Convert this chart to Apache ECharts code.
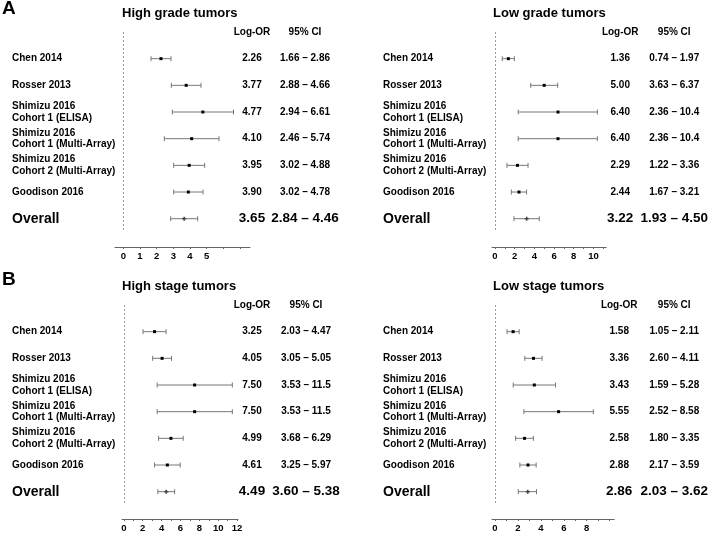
<!DOCTYPE html>
<html>
<head>
<meta charset="utf-8">
<script src="https://cdn.jsdelivr.net/npm/echarts@6/dist/echarts.min.js"></script>
<style>html,body{margin:0;padding:0;background:#fff}#c{width:711px;height:533px}</style>
</head>
<body>
<div id="c"></div>
<script>
// ---- data ----
var studies = ['Chen 2014', 'Rosser 2013', 'Shimizu 2016\nCohort 1 (ELISA)', 'Shimizu 2016\nCohort 1 (Multi-Array)', 'Shimizu 2016\nCohort 2 (Multi-Array)', 'Goodison 2016', 'Overall'];
var panelTitles = ['High grade tumors', 'Low grade tumors', 'High stage tumors', 'Low stage tumors'];
var headerLogOR = 'Log-OR';
var headerCI = '95% CI';

var highGradeOR = [2.26, 3.77, 4.77, 4.10, 3.95, 3.90, 3.65];
var highGradeLo = [1.66, 2.88, 2.94, 2.46, 3.02, 3.02, 2.84];
var highGradeHi = [2.86, 4.66, 6.61, 5.74, 4.88, 4.78, 4.46];

var lowGradeOR = [1.36, 5.00, 6.40, 6.40, 2.29, 2.44, 3.22];
var lowGradeLo = [0.74, 3.63, 2.36, 2.36, 1.22, 1.67, 1.93];
var lowGradeHi = [1.97, 6.37, 10.4, 10.4, 3.36, 3.21, 4.50];

var highStageOR = [3.25, 4.05, 7.50, 7.50, 4.99, 4.61, 4.49];
var highStageLo = [2.03, 3.05, 3.53, 3.53, 3.68, 3.25, 3.60];
var highStageHi = [4.47, 5.05, 11.5, 11.5, 6.29, 5.97, 5.38];

var lowStageOR = [1.58, 3.36, 3.43, 5.55, 2.58, 2.88, 2.86];
var lowStageLo = [1.05, 2.60, 1.59, 2.52, 1.80, 2.17, 2.03];
var lowStageHi = [2.11, 4.11, 5.28, 8.58, 3.35, 3.59, 3.62];

var highGradeTicks = [0, 1, 2, 3, 4, 5, 6, 7];
var highGradeTickLabels = [0, 1, 2, 3, 4, 5];
var lowGradeTicks = [0, 1, 2, 3, 4, 5, 6, 7, 8, 9, 10, 11];
var lowGradeTickLabels = [0, 2, 4, 6, 8, 10];
var highStageTicks = [0, 1, 2, 3, 4, 5, 6, 7, 8, 9, 10, 11, 12];
var highStageTickLabels = [0, 2, 4, 6, 8, 10, 12];
var lowStageTicks = [0, 1, 2, 3, 4, 5, 6, 7, 8, 9, 10];
var lowStageTickLabels = [0, 2, 4, 6, 8];

// ---- layout ----
var FONT = '"Liberation Sans", Arial, Helvetica, sans-serif';
function fmt(v) { return v >= 10 ? v.toFixed(1) : v.toFixed(2); }

var panels = [
  { title: panelTitles[0], or: highGradeOR, lo: highGradeLo, hi: highGradeHi, ticks: highGradeTicks, tickLabels: highGradeTickLabels,
    left: 115, width: 135, top: 32, min: -0.5, max: 7.6, titleLeft: 122, titleTop: 7, labelX: 12, orX: 252, ciX: 305, axisOffset: 15 },
  { title: panelTitles[1], or: lowGradeOR, lo: lowGradeLo, hi: lowGradeHi, ticks: lowGradeTicks, tickLabels: lowGradeTickLabels,
    left: 492, width: 116, top: 32, min: -0.3, max: 11.3, titleLeft: 493, titleTop: 7, labelX: 383, orX: 622, ciX: 676, axisOffset: 15 },
  { title: panelTitles[2], or: highStageOR, lo: highStageLo, hi: highStageHi, ticks: highStageTicks, tickLabels: highStageTickLabels,
    left: 122, width: 116, top: 305, min: -0.2, max: 12.1, titleLeft: 122, titleTop: 280, labelX: 12, orX: 252, ciX: 306, axisOffset: 14 },
  { title: panelTitles[3], or: lowStageOR, lo: lowStageLo, hi: lowStageHi, ticks: lowStageTicks, tickLabels: lowStageTickLabels,
    left: 492, width: 125, top: 305, min: -0.26, max: 10.4, titleLeft: 493, titleTop: 280, labelX: 383, orX: 622, ciX: 677, axisOffset: 14 }
];

var rowCount = studies.length; // rows 1..7, header row 0
var rowMax = rowCount + 0.5;
var rowValues = [];
for (var r = 0; r <= rowCount; r++) rowValues.push(r);

var option = {
  animation: false,
  backgroundColor: '#ffffff',
  title: [
    { text: 'A', left: 2, top: -1, padding: 0, textStyle: { fontFamily: FONT, fontSize: 19, fontWeight: 'bold', color: '#000' } },
    { text: 'B', left: 2, top: 270, padding: 0, textStyle: { fontFamily: FONT, fontSize: 19, fontWeight: 'bold', color: '#000' } }
  ],
  grid: [], xAxis: [], yAxis: [], series: []
};

var richLeft = {
  n: { fontFamily: FONT, fontSize: 10, fontWeight: 'bold', color: '#000', lineHeight: 11.5 },
  o: { fontFamily: FONT, fontSize: 14, fontWeight: 'bold', color: '#000' },
  h: { fontFamily: FONT, fontSize: 10, fontWeight: 'bold', color: '#000' }
};
var richRight = {
  n: { fontFamily: FONT, fontSize: 10, fontWeight: 'bold', color: '#000' },
  o: { fontFamily: FONT, fontSize: 13.5, fontWeight: 'bold', color: '#000' },
  h: { fontFamily: FONT, fontSize: 10, fontWeight: 'bold', color: '#000' }
};

function wrap(v, text) {
  if (v === 0) return '{h|' + text + '}';
  if (v === rowCount) return '{o|' + text + '}';
  return text.split('\n').map(function (t) { return '{n|' + t + '}'; }).join('\n');
}

panels.forEach(function (p, gi) {
  option.title.push({ text: p.title, left: p.titleLeft, top: p.titleTop, padding: 0,
    textStyle: { fontFamily: FONT, fontSize: 13, fontWeight: 'bold', color: '#000' } });
  option.grid.push({ left: p.left, width: p.width, top: p.top, height: (rowMax) * 26.67 });
  option.xAxis.push({
    type: 'value', gridIndex: gi, min: p.min, max: p.max, offset: p.axisOffset, position: 'bottom',
    axisLine: { show: true, onZero: false, lineStyle: { color: '#666', width: 1 } },
    axisTick: { show: true, length: 2, customValues: p.ticks, lineStyle: { color: '#666' } },
    axisLabel: { customValues: p.tickLabels, margin: 4, fontFamily: FONT, fontSize: 9.5, fontWeight: 'bold', color: '#000' },
    splitLine: { show: false }
  });
  var yBase = { type: 'value', gridIndex: gi, min: 0, max: rowMax, inverse: true,
    axisLine: { show: false }, axisTick: { show: false }, splitLine: { show: false } };
  var y0 = option.yAxis.length;
  // study names
  option.yAxis.push(Object.assign({}, yBase, { position: 'left',
    axisLabel: { customValues: rowValues, align: 'left', margin: p.left - p.labelX, rich: richLeft,
      formatter: function (v) { return v === 0 ? '' : wrap(v, studies[v - 1]); } } }));
  // log-OR column
  option.yAxis.push(Object.assign({}, yBase, { position: 'right',
    axisLabel: { customValues: rowValues, align: 'center', margin: p.orX - (p.left + p.width), rich: richRight,
      formatter: function (v) { return wrap(v, v === 0 ? headerLogOR : fmt(p.or[v - 1])); } } }));
  // CI column
  option.yAxis.push(Object.assign({}, yBase, { position: 'right',
    axisLabel: { customValues: rowValues, align: 'center', margin: p.ciX - (p.left + p.width), rich: richRight,
      formatter: function (v) { return wrap(v, v === 0 ? headerCI : fmt(p.lo[v - 1]) + ' \u2013 ' + fmt(p.hi[v - 1])); } } }));

  var data = p.or.map(function (o, i) { return [o, p.lo[i], p.hi[i], i + 1]; });
  option.series.push({
    type: 'custom', xAxisIndex: gi, yAxisIndex: y0, data: data,
    encode: { x: [0, 1, 2], y: 3 },
    renderItem: function (params, api) {
      var row = api.value(3);
      var c = api.coord([api.value(0), row]);
      var a = api.coord([api.value(1), row]);
      var b = api.coord([api.value(2), row]);
      var isOverall = row === rowCount;
      var col = '#777';
      var cap = 2.5;
      return { type: 'group', children: [
        { type: 'line', shape: { x1: a[0], y1: c[1], x2: b[0], y2: c[1] }, style: { stroke: col, lineWidth: 1 } },
        { type: 'line', shape: { x1: a[0], y1: c[1] - cap, x2: a[0], y2: c[1] + cap }, style: { stroke: col, lineWidth: 1 } },
        { type: 'line', shape: { x1: b[0], y1: c[1] - cap, x2: b[0], y2: c[1] + cap }, style: { stroke: col, lineWidth: 1 } },
        isOverall
          ? { type: 'group', children: [
              { type: 'line', shape: { x1: c[0] - 2, y1: c[1], x2: c[0] + 2, y2: c[1] }, style: { stroke: '#444', lineWidth: 1.5 } },
              { type: 'line', shape: { x1: c[0], y1: c[1] - 2, x2: c[0], y2: c[1] + 2 }, style: { stroke: '#444', lineWidth: 1.5 } } ] }
          : { type: 'rect', shape: { x: c[0] - 1.5, y: c[1] - 1.5, width: 3, height: 3 }, style: { fill: '#000' } }
      ] };
    },
    markLine: { silent: true, symbol: 'none', label: { show: false },
      lineStyle: { color: '#999', width: 1, type: [2, 2] },
      data: [{ xAxis: 0 }] }
  });
});

var chart = echarts.init(document.getElementById('c'), null, { renderer: 'canvas' });
chart.setOption(option);
</script>
</body>
</html>
